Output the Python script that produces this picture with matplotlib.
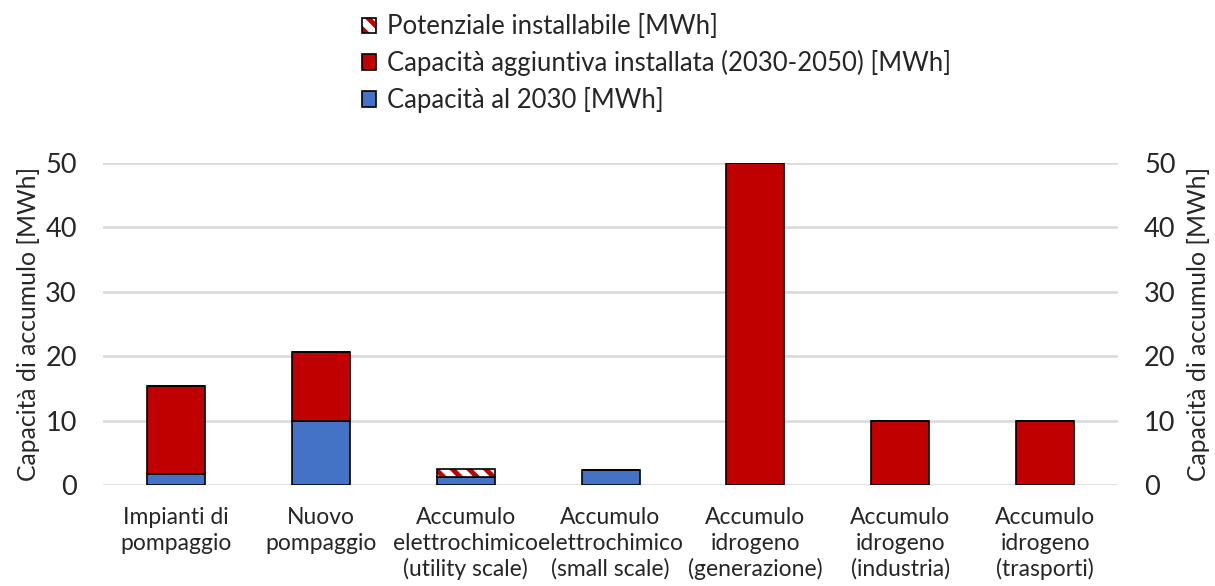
import matplotlib.pyplot as plt
import matplotlib.patches as mpatches
import numpy as np

plt.rcParams['font.family'] = ['Lato', 'DejaVu Sans']

categorie = ["Impianti di\npompaggio", "Nuovo\npompaggio", "Accumulo\nelettrochimico\n(utility scale)",
             "Accumulo\nelettrochimico\n(small scale)", "Accumulo\nidrogeno\n(generazione)",
             "Accumulo\nidrogeno\n(industria)", "Accumulo\nidrogeno\n(trasporti)"]
cap_2030 = [1.8, 10.0, 1.2, 2.3, 0.0, 0.0, 0.0]
cap_aggiuntiva = [13.6, 10.7, 0.0, 0.0, 50.0, 10.0, 10.0]
potenziale = [0.0, 0.0, 1.3, 0.0, 0.0, 0.0, 0.0]

blu = "#4472C4"
rosso = "#C00000"
grigio = "#D9D9D9"
testo = "#262626"

fig = plt.figure(figsize=(12.15, 5.86), dpi=100)
ax = fig.add_axes([0.085, 0.172, 0.835, 0.550])
x = np.arange(len(categorie))
w = 0.4

plt.rcParams['hatch.linewidth'] = 3.5
ax.bar(x, cap_2030, w, color=blu, edgecolor="black", linewidth=1.2, zorder=3)
base2 = np.array(cap_2030)
ax.bar(x, cap_aggiuntiva, w, bottom=base2, color=rosso, edgecolor="black", linewidth=1.2, zorder=3)
base3 = base2 + np.array(cap_aggiuntiva)
ax.bar(x, potenziale, w, bottom=base3, color="white", edgecolor=rosso, hatch="\\\\", linewidth=0, zorder=3)
ax.bar(x, potenziale, w, bottom=base3, fill=False, edgecolor="black", linewidth=1.2, zorder=4)

ax.set_xlim(-0.5, len(categorie) - 0.5)
ax.set_ylim(0, 50)
ax.set_yticks(range(0, 51, 10))
ax.yaxis.grid(True, color=grigio, linewidth=1.8, zorder=0)
ax.set_axisbelow(True)
for s in ax.spines.values():
    s.set_visible(False)
ax.tick_params(axis="both", length=0)
ax.tick_params(axis="y", labelsize=19.5, pad=19, labelcolor=testo)
ax.set_xticks(x)
ax.set_xticklabels(categorie, fontsize=16.5, color=testo, linespacing=1.24)
ax.tick_params(axis="x", pad=16)
ax.set_ylabel("Capacità di accumulo [MWh]", fontsize=17.8, color=testo, labelpad=4)

ax2 = ax.twinx()
ax2.set_ylim(0, 50)
ax2.set_yticks(range(0, 51, 10))
for s in ax2.spines.values():
    s.set_visible(False)
ax2.tick_params(axis="y", length=0, labelsize=19.5, pad=19, labelcolor=testo)
ax2.set_ylabel("Capacità di accumulo [MWh]", fontsize=17.8, color=testo, labelpad=8)

h3a = mpatches.Patch(facecolor="white", edgecolor=rosso, hatch="\\\\", linewidth=0)
h3b = mpatches.Patch(fill=False, edgecolor="black", linewidth=1.2)
h2 = mpatches.Patch(facecolor=rosso, edgecolor="black", linewidth=1.2)
h1 = mpatches.Patch(facecolor=blu, edgecolor="black", linewidth=1.2)
fig.legend([(h3a, h3b), h2, h1],
           ["Potenziale installabile [MWh]", "Capacità aggiuntiva installata (2030-2050) [MWh]",
            "Capacità al 2030 [MWh]"],
           loc="upper left", bbox_to_anchor=(0.279, 1.015), frameon=False, fontsize=18.5,
           handlelength=0.55, handleheight=0.55, handletextpad=0.4, labelspacing=0.42,
           labelcolor=testo)

fig.savefig("out.png", dpi=100)
